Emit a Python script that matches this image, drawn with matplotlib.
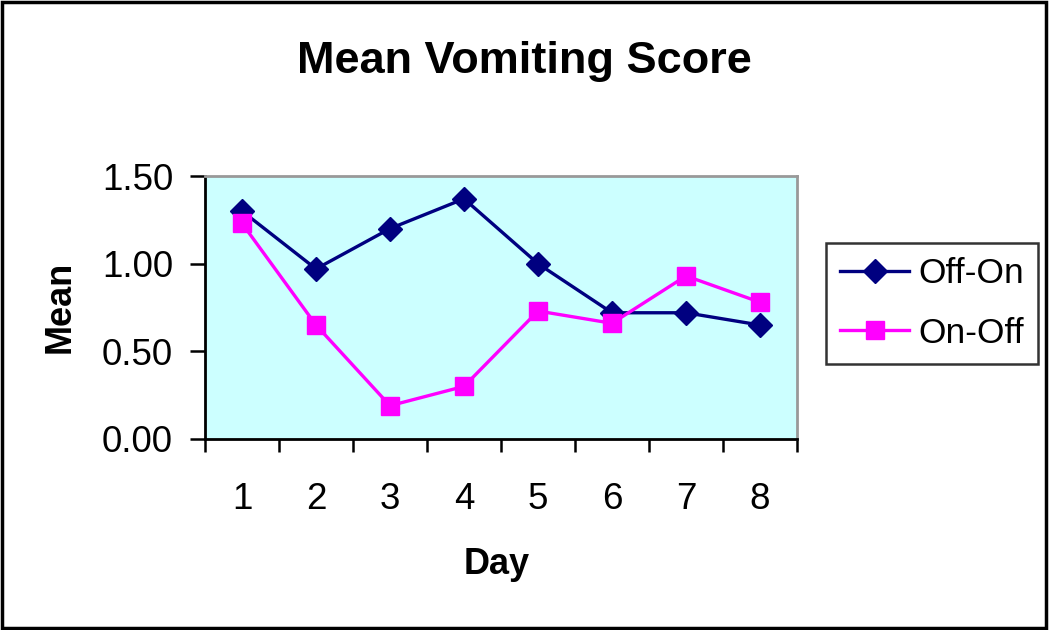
import matplotlib
matplotlib.use("Agg")
import matplotlib.pyplot as plt
from matplotlib.patches import Rectangle

plt.rcParams['font.family'] = ['Liberation Sans', 'DejaVu Sans']

# data
days = [1, 2, 3, 4, 5, 6, 7, 8]
off_on = [1.30, 0.97, 1.20, 1.37, 1.00, 0.72, 0.72, 0.65]
on_off = [1.23, 0.65, 0.19, 0.30, 0.73, 0.66, 0.93, 0.78]
yticks = [0.0, 0.5, 1.0, 1.5]

fig = plt.figure(figsize=(10.5, 6.3), dpi=100)
ax = fig.add_axes([205/1050, 1-439/630, 592/1050, 263/630])
ax.set_facecolor('#CCFFFF')

ax.plot(days, off_on, color='#000080', lw=2.4, marker='D', ms=12, label='Off-On', zorder=3)
ax.plot(days, on_off, color='#FF00FF', lw=2.4, marker='s', ms=13, label='On-Off', zorder=3)

ax.set_xlim(0.5, 8.5)
ax.set_ylim(0, 1.5)
ax.set_yticks(yticks)
ax.set_yticklabels([f"{v:.2f}" for v in yticks])
ax.set_xticks(days)
ax.set_xticks([d - 0.5 for d in days] + [8.5], minor=True)
ax.tick_params(axis='x', which='major', length=0, pad=31, labelsize=26.5)
ax.tick_params(axis='x', which='minor', length=9, width=1.8, direction='out')
ax.tick_params(axis='y', length=11, width=1.8, direction='out', pad=12, labelsize=26.5)

for s in ['top', 'right']:
    ax.spines[s].set_color('#999999')
    ax.spines[s].set_linewidth(2)
for s in ['left', 'bottom']:
    ax.spines[s].set_color('black')
    ax.spines[s].set_linewidth(2)

ax.set_xlabel('Day', fontsize=26, fontweight='bold')
ax.xaxis.set_label_coords(0.493, -0.41)
ax.set_ylabel('Mean', fontsize=26, fontweight='bold')
ax.yaxis.set_label_coords(-0.215, 0.502)

fig.text(524/1050, 1-62/630, 'Mean Vomiting Score', fontsize=32.5, fontweight='bold',
         ha='center', va='center')

leg = ax.legend(loc='upper left', bbox_to_anchor=(826/1050, 1-243/630),
                bbox_transform=fig.transFigure, fontsize=25.5, frameon=True,
                fancybox=False, edgecolor='black', borderpad=0.4,
                handlelength=1.95, handletextpad=0.25, labelspacing=0.75,
                borderaxespad=0)
leg.get_frame().set_linewidth(1.8)

# outer border
fig.patches.append(Rectangle((0.002, 0.003), 0.994, 0.994, transform=fig.transFigure,
                             fill=False, edgecolor='black', lw=2.5))

fig.savefig('out.png', dpi=100)
